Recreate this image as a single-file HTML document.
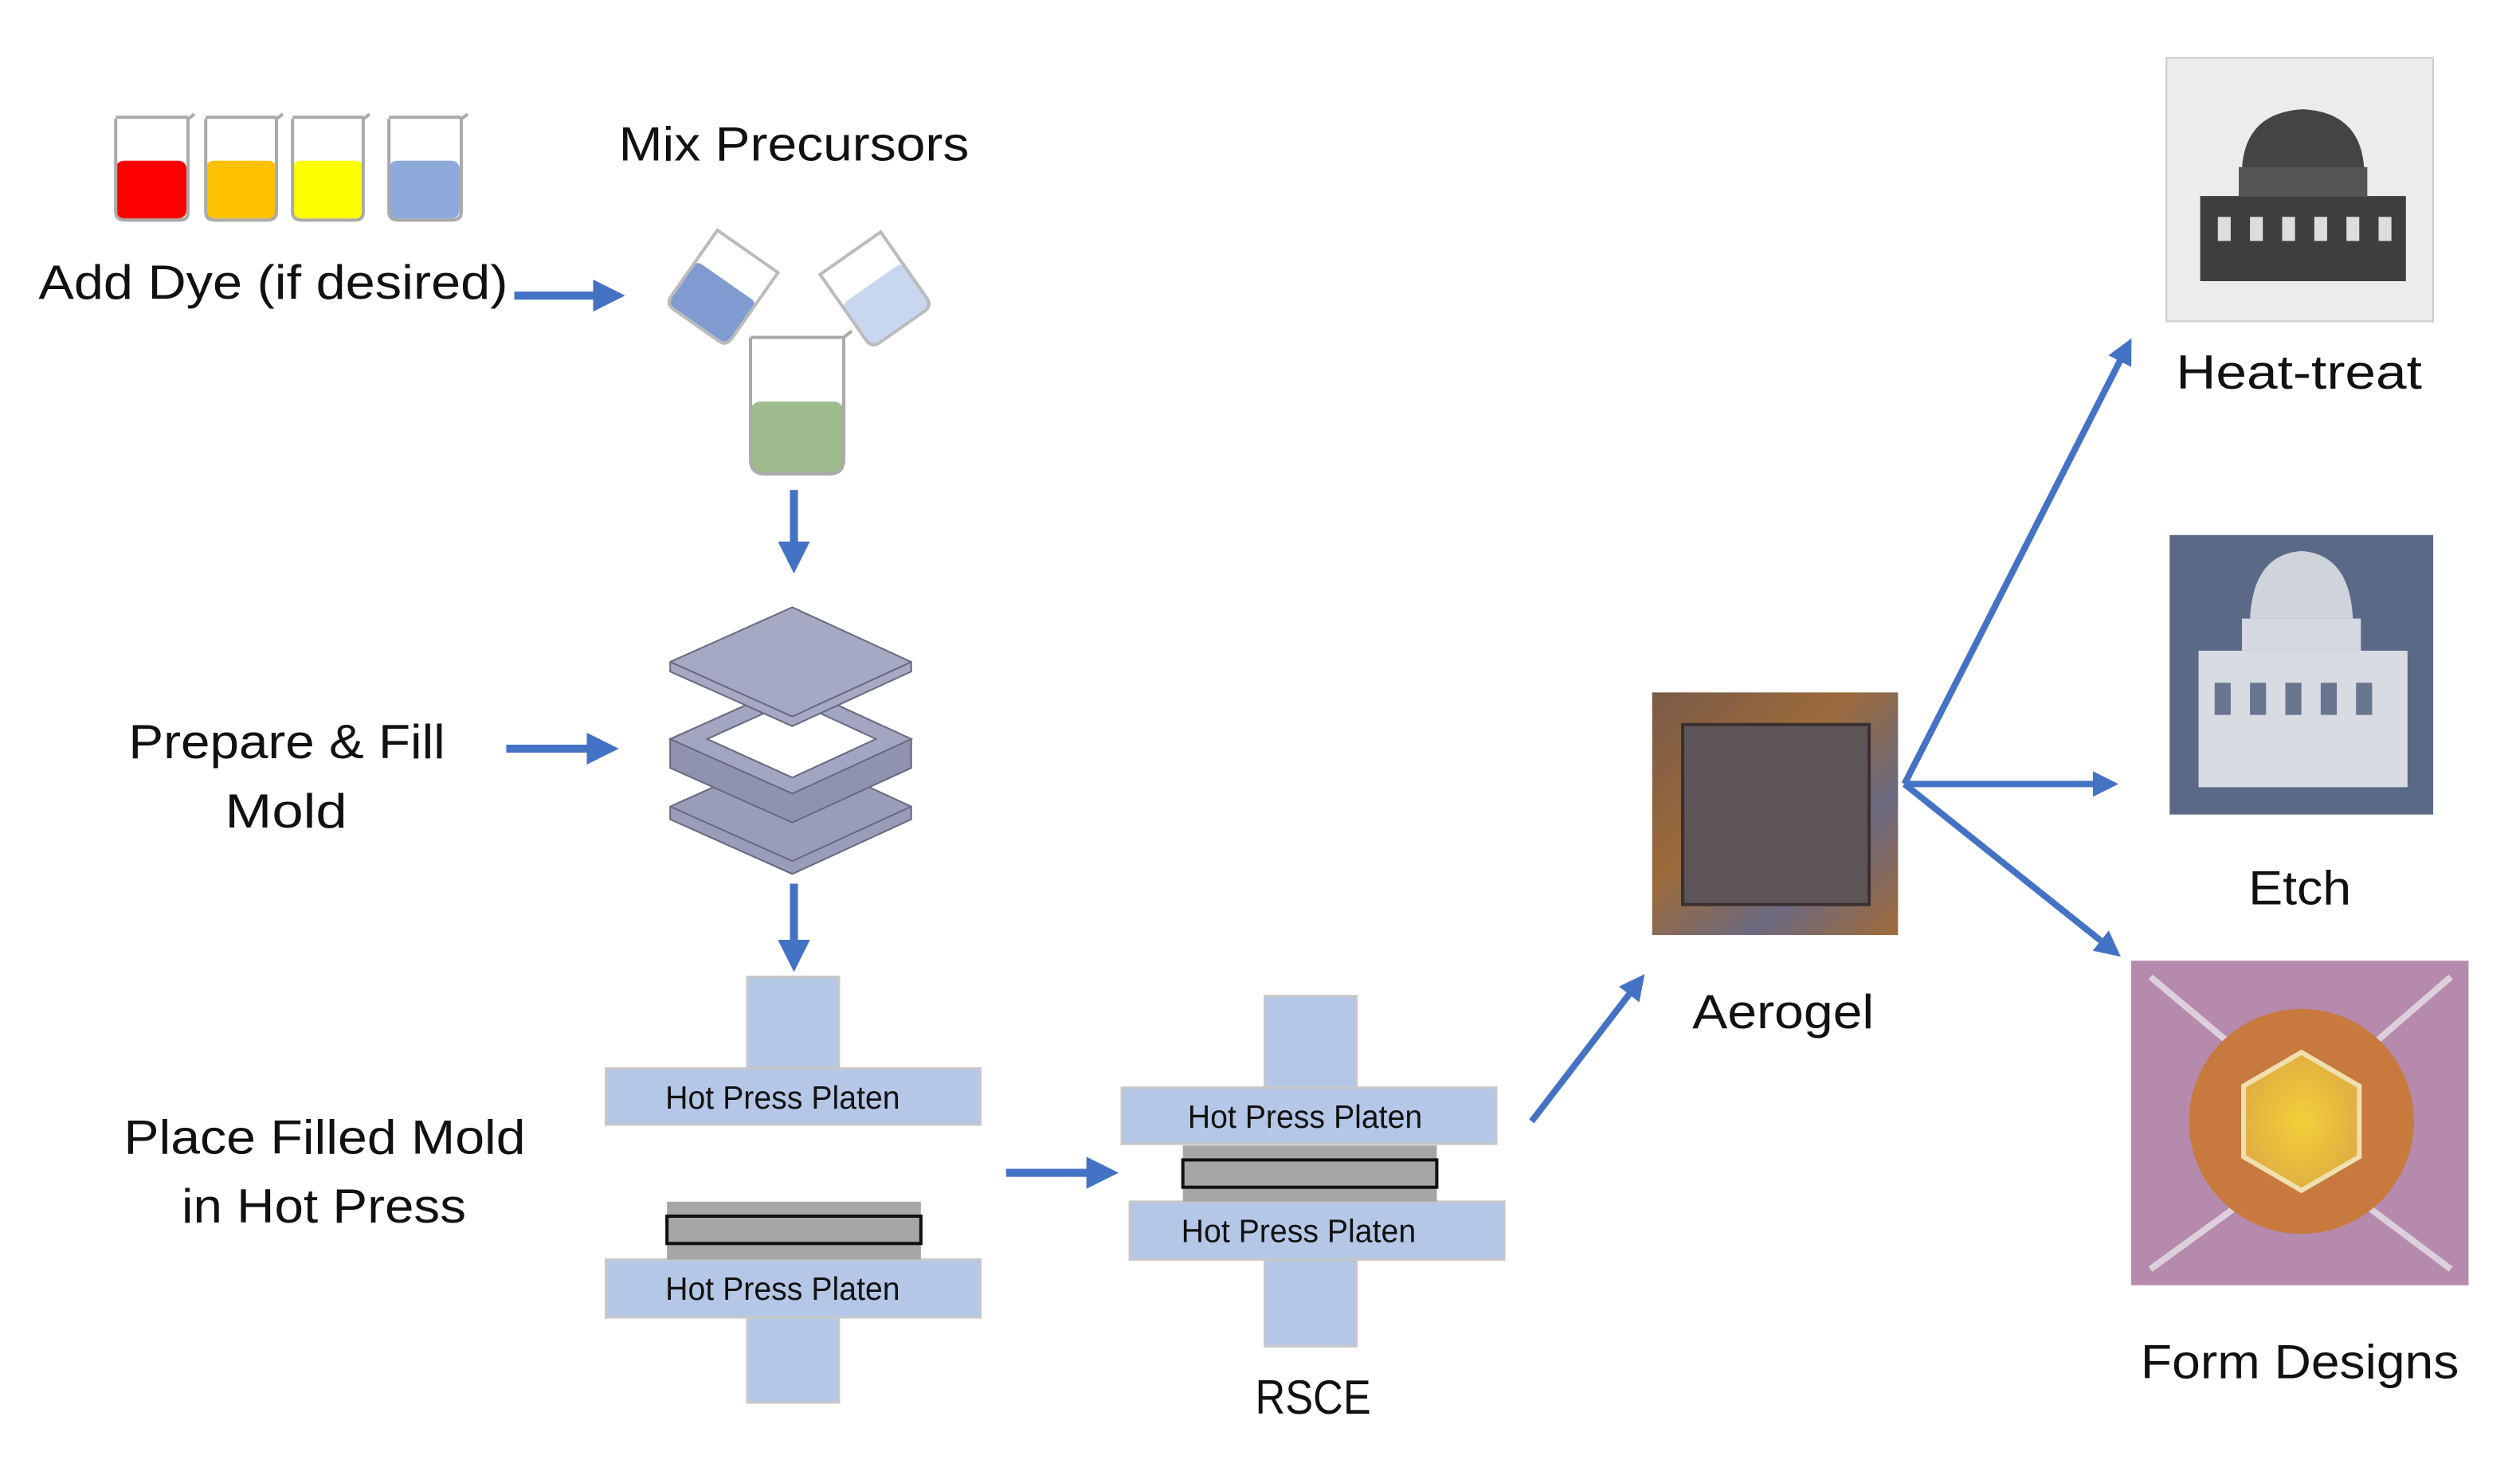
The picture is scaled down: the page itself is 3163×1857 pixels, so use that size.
<!DOCTYPE html>
<html><head><meta charset="utf-8"><style>
html,body{margin:0;padding:0;background:#fff;}
svg{display:block;}
text{font-family:"Liberation Sans",sans-serif;fill:#111;}
</style></head><body>
<svg width="3163" height="1857" viewBox="0 0 1568 920.6" preserveAspectRatio="none" xmlns="http://www.w3.org/2000/svg">
<defs>
<marker id="ah" markerWidth="4" markerHeight="4" refX="2.2" refY="2" orient="auto" markerUnits="strokeWidth">
<path d="M0,0 L4,2 L0,4 z" fill="#4472c4"/></marker>
<linearGradient id="aer" x1="0" y1="0" x2="1" y2="1">
<stop offset="0" stop-color="#7a5a48"/><stop offset="0.4" stop-color="#9c6a3a"/><stop offset="0.7" stop-color="#6b6a80"/><stop offset="1" stop-color="#a06a38"/></linearGradient>
<radialGradient id="yel" cx="0.5" cy="0.5" r="0.5"><stop offset="0" stop-color="#f2d03a"/><stop offset="1" stop-color="#e0b040"/></radialGradient>
</defs>

<g stroke="#aaa" stroke-width="2">
<rect x="72" y="100" width="44" height="36" rx="5" fill="#ff0000" stroke="none"/>
<rect x="128" y="100" width="44" height="36" rx="5" fill="#ffc000" stroke="none"/>
<rect x="182" y="100" width="44" height="36" rx="5" fill="#ffff00" stroke="none"/>
<rect x="242" y="100" width="44" height="36" rx="5" fill="#8eaadb" stroke="none"/>
<path d="M72,74 L72,132 Q72,137 78,137 L112,137 Q117,137 117,132 L117,74 L121,71" fill="none"/>
<path d="M128,74 L128,132 Q128,137 134,137 L166,137 Q172,137 172,132 L172,74 L176,71" fill="none"/>
<path d="M182,74 L182,132 Q182,137 188,137 L221,137 Q226,137 226,132 L226,74 L230,71" fill="none"/>
<path d="M242,74 L242,132 Q242,137 248,137 L281,137 Q287,137 287,132 L287,74 L291,71" fill="none"/>
<line x1="72" y1="73" x2="117" y2="73"/><line x1="128" y1="73" x2="172" y2="73"/><line x1="182" y1="73" x2="226" y2="73"/><line x1="242" y1="73" x2="287" y2="73"/>
</g>
<text x="24" y="186" font-size="30" textLength="292" lengthAdjust="spacingAndGlyphs">Add Dye (if desired)</text>
<line x1="320" y1="184" x2="380" y2="184" stroke="#4472c4" stroke-width="5" marker-end="url(#ah)"/>
<text x="385" y="100" font-size="30" textLength="218" lengthAdjust="spacingAndGlyphs">Mix Precursors</text>

<g transform="rotate(35 450 180)">
<rect x="426" y="175" width="46" height="32" rx="4" fill="#7f9bd0"/>
<path d="M426,152 L426,202 Q426,208 432,208 L466,208 Q472,208 472,202 L472,152 z" fill="none" stroke="#bbb" stroke-width="2"/></g>
<g transform="rotate(-35 546 180)">
<rect x="522" y="175" width="46" height="32" rx="4" fill="#c9d6ef"/>
<path d="M522,152 L522,202 Q522,208 528,208 L562,208 Q568,208 568,202 L568,152 z" fill="none" stroke="#bbb" stroke-width="2"/></g>
<rect x="467" y="250" width="58" height="44" rx="6" fill="#9dbb8c"/>
<path d="M467,210 L467,286 Q467,295 476,295 L516,295 Q525,295 525,286 L525,210 L530,206 M467,210 L525,210" fill="none" stroke="#aaa" stroke-width="2"/>
<line x1="494" y1="305" x2="494" y2="348" stroke="#4472c4" stroke-width="5" marker-end="url(#ah)"/>

<g stroke="#666a80" stroke-width="1">
<path d="M417,502 L493,468 L567,502 L567,510 L493,544 L417,510 z" fill="#9a9db8"/>
<path d="M417,502 L493,536 L567,502" fill="none"/>
<path d="M417,460 L493,426 L567,460 L567,478 L493,512 L417,478 z" fill="#8f93ad"/>
<path d="M417,460 L493,494 L567,460 L493,426 z" fill="#a3a6c0"/>
<path d="M440,460 L493,436 L545,460 L493,484 z" fill="#fff"/>
<path d="M417,412 L493,378 L567,412 L567,418 L493,452 L417,418 z" fill="#a6a9c2"/>
<path d="M417,412 L493,446 L567,412" fill="none"/>
</g>
<text x="80" y="472" font-size="30" textLength="197" lengthAdjust="spacingAndGlyphs">Prepare &amp; Fill</text>
<text x="140" y="515" font-size="30" textLength="76" lengthAdjust="spacingAndGlyphs">Mold</text>
<line x1="315" y1="466" x2="376" y2="466" stroke="#4472c4" stroke-width="5" marker-end="url(#ah)"/>
<line x1="494" y1="550" x2="494" y2="596" stroke="#4472c4" stroke-width="5" marker-end="url(#ah)"/>

<g fill="#b4c7e7" stroke="#c8c8c8" stroke-width="1.5">
<rect x="465" y="608" width="57" height="57"/>
<rect x="377" y="665" width="233" height="35"/>
<rect x="377" y="784" width="233" height="36"/>
<rect x="465" y="820" width="57" height="53"/>
</g>
<rect x="415" y="748" width="158" height="36" fill="#a6a6a6"/>
<rect x="415" y="757" width="158" height="17" fill="#a6a6a6" stroke="#111" stroke-width="2"/>
<text x="487" y="690" font-size="20" text-anchor="middle" textLength="146" lengthAdjust="spacingAndGlyphs">Hot Press Platen</text>
<text x="487" y="809" font-size="20" text-anchor="middle" textLength="146" lengthAdjust="spacingAndGlyphs">Hot Press Platen</text>
<text x="77" y="718" font-size="30" textLength="250" lengthAdjust="spacingAndGlyphs">Place Filled Mold</text>
<text x="113" y="761" font-size="30" textLength="177" lengthAdjust="spacingAndGlyphs">in Hot Press</text>
<line x1="626" y1="730" x2="687" y2="730" stroke="#4472c4" stroke-width="5" marker-end="url(#ah)"/>

<g fill="#b4c7e7" stroke="#c8c8c8" stroke-width="1.5">
<rect x="787" y="620" width="57" height="57"/>
<rect x="698" y="677" width="233" height="35"/>
<rect x="703" y="748" width="233" height="36"/>
<rect x="787" y="784" width="57" height="54"/>
</g>
<rect x="736" y="713" width="158" height="35" fill="#a6a6a6"/>
<rect x="736" y="722" width="158" height="17" fill="#a6a6a6" stroke="#111" stroke-width="2"/>
<text x="812" y="702" font-size="20" text-anchor="middle" textLength="146" lengthAdjust="spacingAndGlyphs">Hot Press Platen</text>
<text x="808" y="773" font-size="20" text-anchor="middle" textLength="146" lengthAdjust="spacingAndGlyphs">Hot Press Platen</text>
<text x="781" y="880" font-size="30" textLength="72" lengthAdjust="spacingAndGlyphs">RSCE</text>
<line x1="953" y1="698" x2="1019" y2="612" stroke="#4472c4" stroke-width="4" marker-end="url(#ah)"/>

<rect x="1028" y="431" width="153" height="151" fill="url(#aer)"/>
<rect x="1047" y="451" width="116" height="112" fill="#5e5558" stroke="#3a3030" stroke-width="2"/>
<text x="1053" y="640" font-size="30" textLength="113" lengthAdjust="spacingAndGlyphs">Aerogel</text>

<line x1="1185" y1="488" x2="1323" y2="217" stroke="#4472c4" stroke-width="4" marker-end="url(#ah)"/>
<line x1="1185" y1="488" x2="1311" y2="488" stroke="#4472c4" stroke-width="4" marker-end="url(#ah)"/>
<line x1="1185" y1="488" x2="1314" y2="591" stroke="#4472c4" stroke-width="4" marker-end="url(#ah)"/>

<rect x="1348" y="36" width="166" height="164" fill="#ececec" stroke="#ccc"/>
<path d="M1395,105 Q1397,70 1433,68 Q1469,70 1471,105 z" fill="#444"/>
<rect x="1393" y="104" width="80" height="18" fill="#555"/>
<path d="M1369,122 L1497,122 L1497,175 L1369,175 z" fill="#3e3e3e"/>
<g fill="#ddd"><rect x="1380" y="135" width="8" height="15"/><rect x="1400" y="135" width="8" height="15"/><rect x="1420" y="135" width="8" height="15"/><rect x="1440" y="135" width="8" height="15"/><rect x="1460" y="135" width="8" height="15"/><rect x="1480" y="135" width="8" height="15"/></g>
<text x="1354" y="242" font-size="30" textLength="153" lengthAdjust="spacingAndGlyphs">Heat-treat</text>

<rect x="1350" y="333" width="164" height="174" fill="#5a6a86"/>
<path d="M1400,385 Q1402,345 1432,343 Q1462,345 1464,385 z" fill="#cfd3dc"/>
<rect x="1395" y="385" width="74" height="20" fill="#d4d8e0"/>
<path d="M1368,405 L1498,405 L1498,490 L1368,490 z" fill="#d8dbe2"/>
<g fill="#6a7690"><rect x="1378" y="425" width="10" height="20"/><rect x="1400" y="425" width="10" height="20"/><rect x="1422" y="425" width="10" height="20"/><rect x="1444" y="425" width="10" height="20"/><rect x="1466" y="425" width="10" height="20"/></g>
<text x="1399" y="563" font-size="30" textLength="64" lengthAdjust="spacingAndGlyphs">Etch</text>

<rect x="1326" y="598" width="210" height="202" fill="#b58aac"/>
<g stroke="#ddd0dc" stroke-width="4"><line x1="1338" y1="608" x2="1400" y2="660"/><line x1="1525" y1="608" x2="1465" y2="660"/><line x1="1338" y1="790" x2="1400" y2="745"/><line x1="1525" y1="790" x2="1465" y2="745"/></g>
<circle cx="1432" cy="698" r="70" fill="#c87a3e"/>
<polygon points="1432,655 1468,676 1468,720 1432,741 1396,720 1396,676" fill="url(#yel)" stroke="#f0e0b0" stroke-width="3"/>
<text x="1332" y="858" font-size="30" textLength="198" lengthAdjust="spacingAndGlyphs">Form Designs</text>
</svg>
</body></html>
